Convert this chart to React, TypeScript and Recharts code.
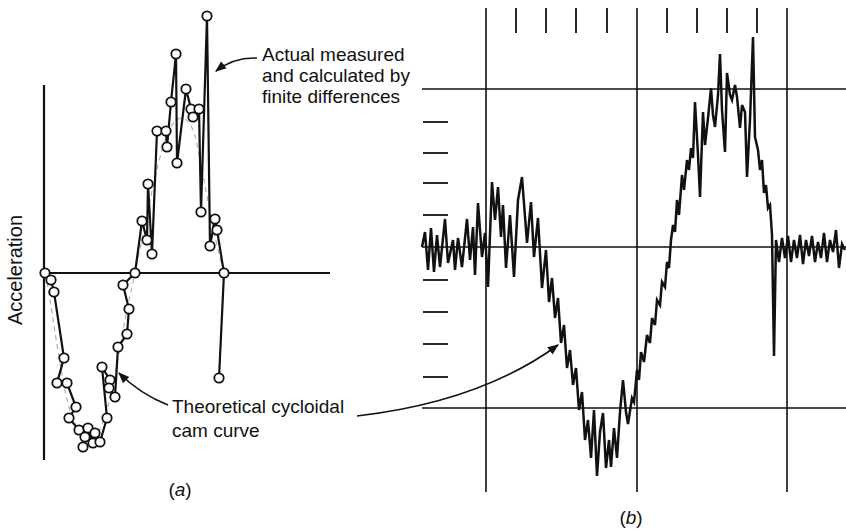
import React from "react";
import { LineChart, Line, XAxis, YAxis, ReferenceLine } from "recharts";

// panel (a): x = cam angle (px units from axis), y = acceleration (zero at baseline)
const measuredA: [number, number][] = [
  [1, 0], [7, -7], [10, -19], [20, -85], [13, -110], [23, -110], [32, -134], [25, -145],
  [35, -157], [41, -164], [39, -174], [44, -155], [49, -170], [51, -160], [56, -169],
  [63, -145], [58, -94], [66, -107], [65, -115], [71, -124], [74, -74], [83, -61],
  [85, -36], [79, -12], [91, 0], [98, 52], [103, 33], [104, 89], [108, 19], [113, 142],
  [122, 142], [123, 126], [127, 171], [132, 219], [133, 110], [142, 184], [147, 164],
  [149, 156], [155, 164], [157, 61], [163, 257], [166, 27], [171, 54], [173, 43],
  [180, 0], [175, -105],
];

const theoreticalA: [number, number][] = [
  [1, 0], [6, -27], [13, -72], [22, -122], [34, -157], [46, -167], [58, -152], [69, -112],
  [80, -52], [91, 0], [102, 53], [114, 108], [126, 145], [138, 155], [149, 143], [159, 98],
  [170, 41], [180, 0],
];

// panel (b): oscilloscope trace, x = time, y = acceleration
const traceB: [number, number][] = [
  [0, 0], [3, 15], [6, -23], [9, 19], [12, -25], [15, 12], [18, -20], [23, 28], [26, -16],
  [31, 7], [33, -23], [36, 9], [40, -20], [45, 28], [48, -13], [51, 20], [53, -28], [56, 44],
  [60, -10], [63, 14], [66, -40], [70, 65], [73, 27], [76, 60], [79, 10], [81, 42], [84, -21],
  [88, 32], [92, -30], [96, 47], [100, 70], [105, 4], [109, 45], [112, -10], [116, 29],
  [120, -41], [124, -3], [127, -55], [130, -31], [133, -71], [136, -51], [139, -96],
  [142, -78], [145, -121], [148, -103], [151, -138], [154, -121], [157, -163], [160, -145],
  [163, -193], [166, -173], [169, -211], [172, -163], [175, -229], [178, -185], [181, -166],
  [184, -221], [187, -193], [189, -220], [192, -181], [195, -211], [198, -165], [201, -133],
  [204, -165], [206, -177], [210, -151], [212, -155], [215, -123], [217, -133], [219, -105],
  [222, -115], [225, -88], [228, -96], [230, -71], [233, -78], [235, -53], [238, -58],
  [240, -35], [243, -40], [245, -15], [247, -21], [249, 7], [251, 22], [253, 15], [255, 47],
  [257, 32], [260, 72], [262, 57], [265, 87], [267, 77], [269, 99], [271, 89], [273, 145],
  [276, 92], [278, 50], [281, 135], [283, 102], [286, 129], [289, 159], [291, 132],
  [293, 120], [296, 152], [298, 193], [300, 137], [303, 95], [305, 174], [308, 152],
  [310, 147], [313, 162], [315, 150], [318, 119], [320, 142], [323, 135], [325, 70],
  [328, 127], [331, 210], [333, 110], [336, 97], [338, 77], [340, 87], [342, 54], [344, 62],
  [346, 39], [348, 42], [350, 12], [352, -109], [354, 7], [357, -15], [360, 9], [363, -11],
  [366, 11], [369, -15], [372, 7], [375, -11], [378, 12], [381, -17], [384, 7], [387, -9],
  [390, 11], [393, -15], [396, 5], [399, -11], [402, 14], [405, -15], [408, 7], [411, -5],
  [414, 17], [417, -21], [420, 3], [423, -3],
];

const gridXB = [64, 215, 365];
const gridYB = [158, 0, -161];
const topTicksB = [94, 124, 154, 185, 245, 275, 305, 335];
const sideTicksB = [125, 94, 64, 32, -33, -65, -97, -130];

const toPts = (arr: [number, number][]) => arr.map(([x, y]) => ({ x, y }));

const font = "'Liberation Sans', Arial, sans-serif";
const ink = "#111";

export default function App() {
  return (
    <div style={{ position: "absolute", left: 0, top: 0, width: 846, height: 532, background: "#fff", overflow: "hidden" }}>
      <div style={{ position: "absolute", left: 0, top: 0 }}>
        <LineChart width={400} height={532} margin={{ top: 8, right: 70, bottom: 72, left: 44 }}>
          <XAxis type="number" dataKey="x" domain={[0, 286]} hide />
          <YAxis type="number" dataKey="y" domain={[-187, 265]} hide />
          <ReferenceLine segment={[{ x: 0, y: -187 }, { x: 0, y: 188 }]} stroke={ink} strokeWidth={2.2} />
          <ReferenceLine segment={[{ x: 0, y: 0 }, { x: 286, y: 0 }]} stroke={ink} strokeWidth={2.2} />
          <Line data={toPts(theoreticalA)} dataKey="y" type="monotone" stroke="#b0b0b0" strokeWidth={1.2}
            strokeDasharray="5 4" dot={false} isAnimationActive={false} />
          <Line data={toPts(measuredA)} dataKey="y" type="linear" stroke={ink} strokeWidth={2.2}
            dot={{ r: 4.7, fill: "#fff", stroke: ink, strokeWidth: 1.8 }} isAnimationActive={false} />
        </LineChart>
      </div>

      <div style={{ position: "absolute", left: 410, top: 0 }}>
        <LineChart width={436} height={532} margin={{ top: 8, right: 0, bottom: 37, left: 12 }}>
          <XAxis type="number" dataKey="x" domain={[0, 424]} hide />
          <YAxis type="number" dataKey="y" domain={[-248, 239]} hide />
          {gridXB.map((x) => (
            <ReferenceLine key={"gx" + x} segment={[{ x, y: -245 }, { x, y: 239 }]} stroke={ink} strokeWidth={1.6} />
          ))}
          {gridYB.map((y) => (
            <ReferenceLine key={"gy" + y} y={y} stroke={ink} strokeWidth={1.6} />
          ))}
          {topTicksB.map((x) => (
            <ReferenceLine key={"tt" + x} segment={[{ x, y: 214 }, { x, y: 239 }]} stroke={ink} strokeWidth={1.8} />
          ))}
          {sideTicksB.map((y) => (
            <ReferenceLine key={"st" + y} segment={[{ x: 1, y }, { x: 26, y }]} stroke={ink} strokeWidth={1.8} />
          ))}
          <Line data={toPts(traceB)} dataKey="y" type="linear" stroke={ink} strokeWidth={2.5}
            strokeLinejoin="miter" dot={false} isAnimationActive={false} />
        </LineChart>
      </div>

      <svg width={846} height={532} style={{ position: "absolute", left: 0, top: 0, pointerEvents: "none" }}>
        <defs>
          <marker id="head" viewBox="0 0 10 10" refX="9" refY="5" markerWidth="7" markerHeight="7" orient="auto">
            <path d="M0,1 L10,5 L0,9 z" fill={ink} />
          </marker>
        </defs>
        <g fontFamily={font} fontSize={19} fill={ink}>
          <text x={262} y={61}>Actual measured</text>
          <text x={262} y={82}>and calculated by</text>
          <text x={262} y={103}>finite differences</text>
          <text x={172} y={413}>Theoretical cycloidal</text>
          <text x={172} y={437}>cam curve</text>
          <text x={22} y={270} fontSize={20} textAnchor="middle" transform="rotate(-90 22 270)">Acceleration</text>
          <text x={180} y={496} textAnchor="middle">(<tspan fontStyle="italic">a</tspan>)</text>
          <text x={631} y={524} textAnchor="middle">(<tspan fontStyle="italic">b</tspan>)</text>
        </g>
        <g fill="none" stroke={ink} strokeWidth={1.6}>
          <path d="M257,58 Q234,57 216,71" markerEnd="url(#head)" />
          <path d="M168,405 Q140,394 119,373" markerEnd="url(#head)" />
          <path d="M357,416 Q480,402 558,345" markerEnd="url(#head)" />
        </g>
      </svg>
    </div>
  );
}
